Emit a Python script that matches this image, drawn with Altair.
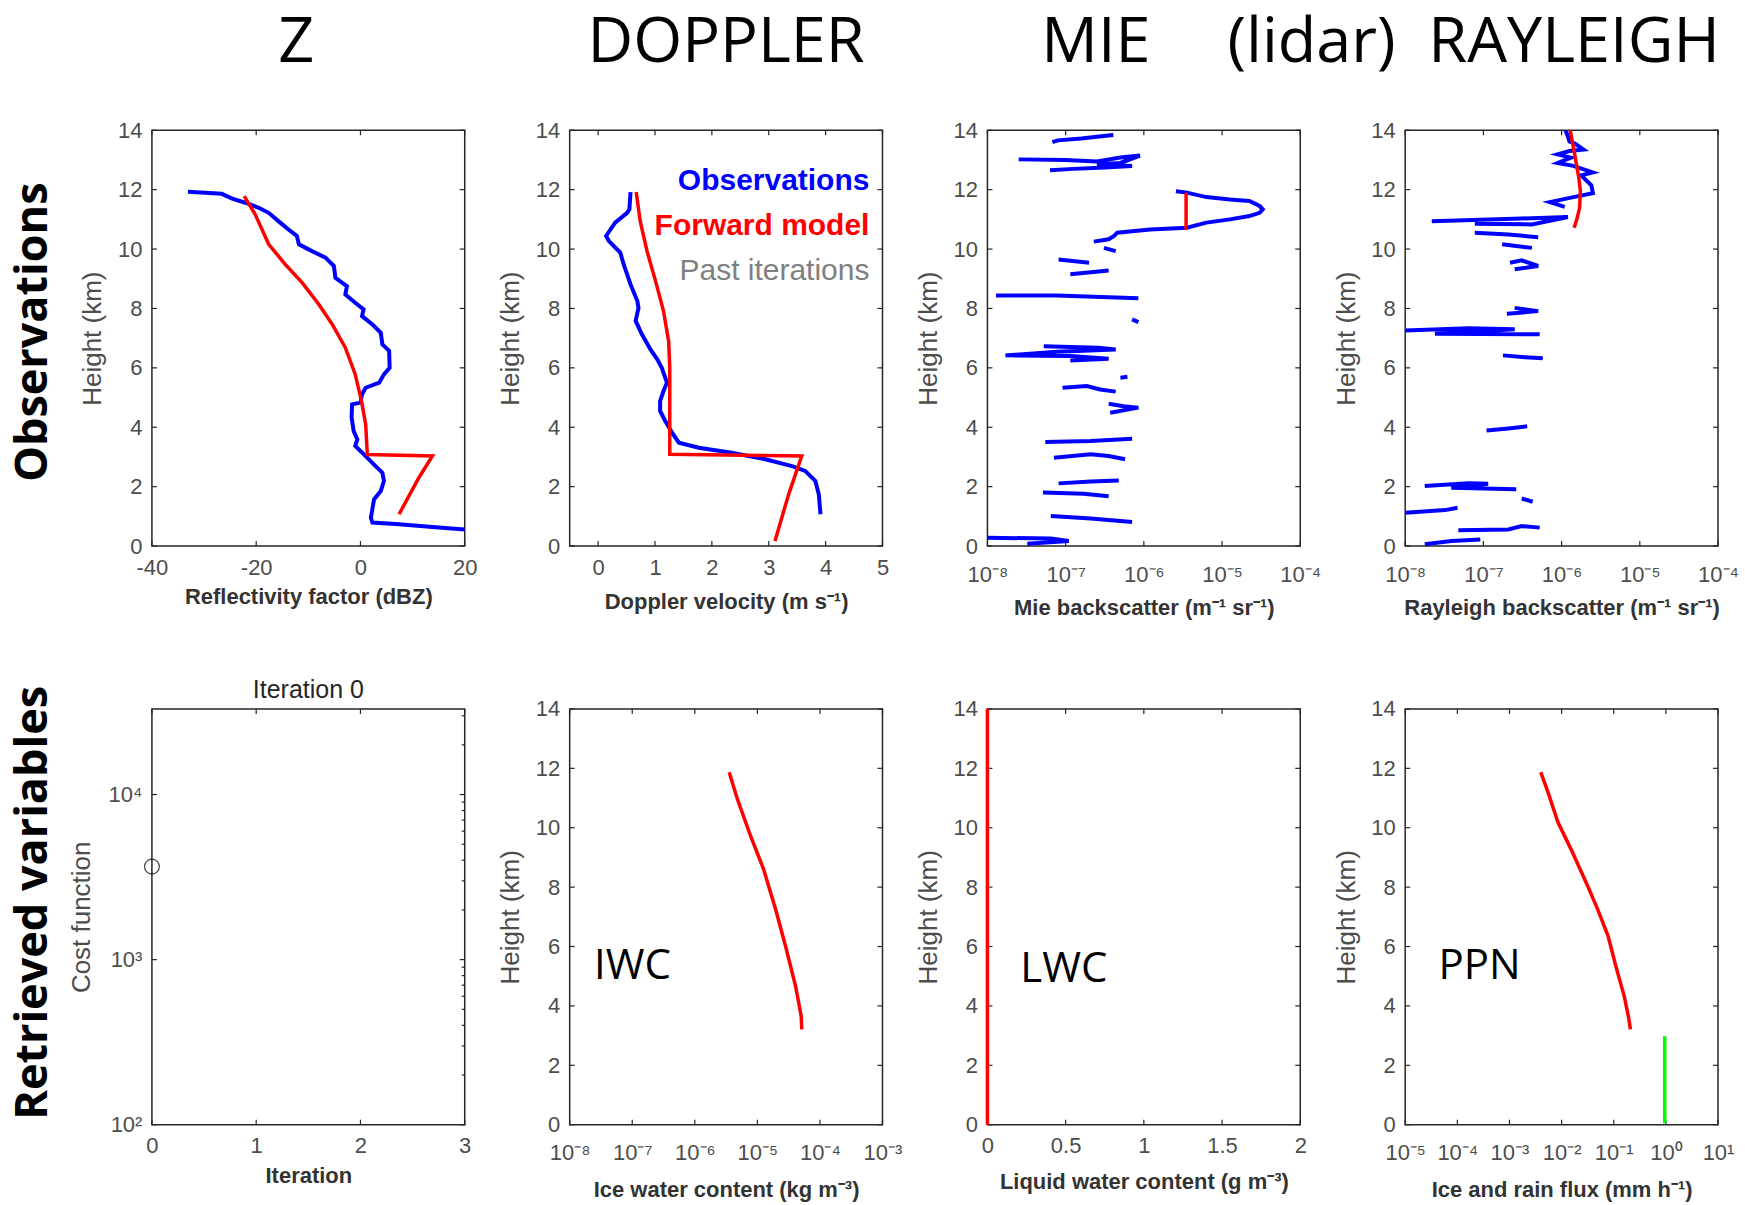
import altair as alt
import pandas as pd

# ---------------- data ----------------
HEIGHT_TICKS = [0, 2, 4, 6, 8, 10, 12, 14]

# Z panel (dBZ, km)
Z_OBS_DBZ = [-33.1, -26.6, -24.6, -22.1, -19.5, -17.6, -15.4, -13.8, -12.2, -11.8, -9.3, -6.7,
             -5.1, -4.8, -2.6, -2.9, -1.0, 0.6, 0.3, 2.3, 3.9, 4.2, 5.5, 5.6, 4.5, 3.6, 1.0, 0.3,
             0.0, -1.6, -1.7, -1.3, -0.6, -1.0, 0.0, 1.0, 2.9, 4.2, 4.5, 3.9, 2.6, 2.0, 2.3, 7.4,
             13.8, 20.0]
Z_OBS_H = [11.93, 11.86, 11.7, 11.56, 11.39, 11.22, 10.89, 10.66, 10.44, 10.16, 9.93, 9.71,
           9.43, 9.03, 8.75, 8.47, 8.19, 7.97, 7.74, 7.46, 7.18, 6.79, 6.57, 6.0, 5.78, 5.5, 5.33,
           5.11, 4.83, 4.77, 4.32, 3.87, 3.59, 3.37, 3.2, 3.03, 2.69, 2.47, 2.19, 1.85, 1.57, 0.95,
           0.79, 0.73, 0.64, 0.56]
Z_FWD_DBZ = [-22.3, -20.2, -17.6, -14.4, -11.2, -8.0, -5.4, -2.9, -1.0, 0.2, 1.0, 1.3, 1.3, 13.8, 11.2, 7.4]
Z_FWD_H = [11.78, 11.17, 10.16, 9.48, 8.87, 8.14, 7.46, 6.68, 5.78, 4.88, 4.1, 3.14, 3.08, 3.03, 2.3, 1.07]
Z_TICKS = [-40, -20, 0, 20]

# Doppler panel (m/s, km)
DOP_OBS_V = [0.57, 0.55, 0.51, 0.30, 0.14, 0.19, 0.39, 0.45, 0.57, 0.69, 0.71, 0.66, 0.77, 0.92,
             1.04, 1.12, 1.21, 1.15, 1.09, 1.09, 1.18, 1.30, 1.42, 1.77, 2.35, 2.94, 3.41, 3.64,
             3.82, 3.88, 3.91]
DOP_OBS_H = [11.92, 11.34, 11.22, 10.89, 10.44, 10.27, 9.88, 9.48, 8.81, 8.25, 8.02, 7.58, 7.13,
             6.62, 6.29, 6.0, 5.5, 5.22, 4.88, 4.55, 4.21, 3.82, 3.48, 3.31, 3.14, 2.92, 2.69, 2.53,
             2.19, 1.74, 1.07]
DOP_FWD_V = [0.67, 0.74, 0.86, 1.01, 1.15, 1.24, 1.26, 1.26, 3.58, 3.35, 3.11]
DOP_FWD_H = [11.92, 10.94, 9.93, 8.92, 7.91, 6.9, 6.0, 3.09, 3.03, 1.74, 0.17]
DOP_TICKS = [0, 1, 2, 3, 4, 5]
LEGEND_TEXT = ["Observations", "Forward model", "Past iterations"]
LEGEND_COLOR = ["#0000ff", "#ff0000", "#808080"]
LEGEND_X = [4.77, 4.77, 4.77]
LEGEND_Y = [12.29, 10.77, 9.26]

# Mie lidar backscatter: segments of (log10 value, km)
MIE_OBS_SEGMENTS = [
    [(-7.17, 13.6), (-7.1, 13.66), (-6.8, 13.72), (-6.6, 13.78), (-6.39, 13.84)],
    [(-7.6, 13.02), (-7.0, 13.0), (-6.6, 12.95), (-6.3, 13.08), (-6.05, 13.15), (-6.3, 12.9),
     (-6.6, 12.85), (-6.15, 12.8), (-6.5, 12.75), (-6.9, 12.7), (-7.2, 12.65)],
    [(-5.59, 11.95), (-5.45, 11.9), (-5.2, 11.75), (-4.9, 11.67), (-4.65, 11.62), (-4.52, 11.45),
     (-4.48, 11.34), (-4.52, 11.22), (-4.65, 11.11), (-4.9, 11.0), (-5.2, 10.89), (-5.45, 10.72),
     (-5.92, 10.66), (-6.34, 10.55), (-6.38, 10.44), (-6.45, 10.33), (-6.64, 10.25)],
    [(-6.51, 10.04), (-6.36, 9.93)],
    [(-7.09, 9.65), (-6.7, 9.54)],
    [(-6.94, 9.15), (-6.45, 9.28)],
    [(-7.89, 8.44), (-7.11, 8.44), (-6.07, 8.34)],
    [(-6.15, 7.63), (-6.07, 7.54)],
    [(-7.28, 6.73), (-6.58, 6.68), (-6.36, 6.62), (-7.11, 6.54), (-7.77, 6.42), (-6.94, 6.4),
     (-6.45, 6.31), (-6.94, 6.25)],
    [(-6.3, 5.67), (-6.21, 5.7)],
    [(-7.04, 5.33), (-6.73, 5.39), (-6.56, 5.27), (-6.36, 5.2)],
    [(-6.45, 4.79), (-6.26, 4.71), (-6.07, 4.66), (-6.43, 4.49)],
    [(-7.26, 3.5), (-6.68, 3.54), (-6.15, 3.61)],
    [(-7.15, 2.97), (-6.68, 3.09), (-6.45, 3.03), (-6.24, 2.92)],
    [(-7.09, 2.11), (-6.68, 2.17), (-6.32, 2.21)],
    [(-7.29, 1.8), (-6.77, 1.76), (-6.45, 1.68)],
    [(-7.19, 1.01), (-6.68, 0.93), (-6.15, 0.81)],
    [(-8.0, 0.28), (-7.19, 0.25), (-6.96, 0.17), (-7.49, 0.08)],
]
MIE_FWD_X = [3.47e-6, 3.47e-6]
MIE_FWD_H = [11.9, 10.65]

# Rayleigh lidar backscatter: segments of (log10 value, km)
RAY_OBS_SEGMENTS = [
    [(-5.95, 14.0), (-5.92, 13.8), (-5.9, 13.62), (-5.83, 13.55), (-5.72, 13.35), (-5.9, 13.3),
     (-6.05, 13.19), (-5.88, 13.08), (-6.05, 12.9), (-5.85, 12.8), (-5.6, 12.58), (-5.75, 12.48),
     (-5.62, 12.15), (-5.6, 11.88), (-5.85, 11.75), (-6.15, 11.58), (-5.96, 11.42)],
    [(-7.66, 10.94), (-6.51, 11.03), (-5.92, 11.08), (-6.38, 10.83), (-7.11, 10.85)],
    [(-7.11, 10.55), (-6.68, 10.49), (-6.3, 10.4)],
    [(-6.76, 10.16), (-6.38, 10.04)],
    [(-6.66, 9.54), (-6.51, 9.62), (-6.3, 9.43), (-6.6, 9.32)],
    [(-6.6, 8.02), (-6.3, 7.91), (-6.7, 7.82)],
    [(-8.0, 7.26), (-7.19, 7.33), (-6.6, 7.3), (-7.62, 7.15), (-6.28, 7.13)],
    [(-6.75, 6.42), (-6.47, 6.36), (-6.24, 6.32)],
    [(-6.96, 3.89), (-6.68, 3.96), (-6.44, 4.03)],
    [(-7.75, 2.02), (-7.19, 2.11), (-6.94, 2.1), (-7.41, 1.96), (-6.58, 1.91)],
    [(-6.51, 1.6), (-6.37, 1.49)],
    [(-8.0, 1.12), (-7.49, 1.21), (-7.33, 1.29)],
    [(-7.32, 0.53), (-6.68, 0.56), (-6.51, 0.67), (-6.28, 0.62)],
    [(-7.75, 0.06), (-7.41, 0.17), (-7.04, 0.22)],
]
RAY_FWD_LOG10 = [-5.89, -5.84, -5.78, -5.76, -5.77, -5.8, -5.84]
RAY_FWD_H = [14.0, 13.3, 12.4, 11.95, 11.39, 11.05, 10.72]
LIDAR_EXPS = [-8, -7, -6, -5, -4]

# Cost function
COST_ITER = [0]
COST_VALUE = [3660]
COST_EXPS = [2, 3, 4]
COST_MINOR = [200, 300, 400, 500, 600, 700, 800, 900, 2000, 3000, 4000, 5000, 6000, 7000,
              8000, 9000, 20000, 30000]
ITER_TICKS = [0, 1, 2, 3]

# IWC
IWC_LOG10 = [-5.45, -5.32, -5.11, -4.9, -4.71, -4.55, -4.39, -4.3, -4.29]
IWC_H = [11.87, 10.97, 9.73, 8.6, 7.26, 6.02, 4.67, 3.66, 3.21]
IWC_EXPS = [-8, -7, -6, -5, -4, -3]

# LWC
LWC_X = [0, 0]
LWC_H = [0, 14]
LWC_TICKS = [0, 0.5, 1, 1.5, 2]

# Precipitation flux
PPN_ICE_LOG10 = [-2.40, -2.26, -2.07, -1.82, -1.5, -1.31, -1.11, -0.96, -0.8, -0.72, -0.68]
PPN_ICE_H = [11.87, 11.19, 10.18, 9.28, 8.04, 7.26, 6.36, 5.34, 4.33, 3.66, 3.21]
PPN_RAIN_X = [0.95, 0.95]
PPN_RAIN_H = [0.05, 2.98]
PPN_EXPS = [-5, -4, -3, -2, -1, 0, 1]

ROW_LABELS = ["Observations", "Retrieved variables"]
COLUMN_HEADERS = ["Z", "DOPPLER", "MIE", "(lidar)\u00a0\u00a0RAYLEIGH"]
COST_TITLE = "Iteration 0"

# ---------------- style ----------------
W, H = 313, 416
TL = 5
AXC = "#262626"
LBL = "#4d4d4d"
BLUE, RED, GREEN = "#0000ff", "#ff0000", "#00ff00"
AF = "Liberation Sans"
HF = "Open Sans"
SUP = str.maketrans("-0123456789", "⁻⁰¹²³⁴⁵⁶⁷⁸⁹")


def pow_expr(exps):
    expr = "''"
    for e in reversed(exps):
        v = repr(10.0 ** e)
        expr = f"(abs(datum.value - {v}) < {v} * 0.001) ? '10{str(e).translate(SUP)}' : {expr}"
    return expr


def x_axis(title, values, expr, label_pad=11, title_pad=8):
    return alt.Axis(title=title, values=values, labelExpr=expr, ticks=False, tickSize=0,
                    domain=False, grid=False, labelFont=AF, labelFontSize=22, labelColor=LBL,
                    labelPadding=label_pad, labelFlush=False, labelOverlap=False,
                    titleFont=AF, titleFontSize=22, titleFontWeight="bold", titleColor="#333333",
                    titlePadding=title_pad)


def y_axis(title, values, expr, extent=38, title_pad=8):
    return alt.Axis(title=title, values=values, labelExpr=expr, ticks=False, tickSize=0,
                    domain=False, grid=False, labelFont=AF, labelFontSize=22, labelColor=LBL,
                    labelPadding=10, labelFlush=False, labelOverlap=False,
                    minExtent=extent, maxExtent=extent,
                    titleFont=AF, titleFontSize=26, titleFontWeight="normal", titleColor=LBL,
                    titlePadding=title_pad)


def line_df(xs, hs):
    return pd.DataFrame({"x": xs, "h": hs, "i": range(len(xs))})


def seg_df(segments):
    rows = []
    for s, seg in enumerate(segments):
        for i, (lx, h) in enumerate(seg):
            rows.append({"x": 10.0 ** lx, "h": h, "seg": s, "i": i})
    return pd.DataFrame(rows)


class Frame:
    def __init__(self, xs, ys, xax, yax):
        self.xs, self.ys, self.xax, self.yax = xs, ys, xax, yax

    def X(self, f="x:Q"):
        return alt.X(f, scale=self.xs, axis=self.xax)

    def Y(self, f="h:Q"):
        return alt.Y(f, scale=self.ys, axis=self.yax)


def line(fr, df, color, width=3.5, clip=True, detail=False):
    enc = dict(x=fr.X(), y=fr.Y(), order=alt.Order("i:Q"))
    if detail:
        enc["detail"] = alt.Detail("seg:N")
    return alt.Chart(df).mark_line(color=color, strokeWidth=width, clip=clip).encode(**enc)


def label(fr, text, x, y, size=42):
    df = pd.DataFrame({"x": [x], "h": [y], "t": [text]})
    return alt.Chart(df).mark_text(font=HF, fontSize=size, color="black", align="left",
                                   baseline="middle").encode(x=fr.X(), y=fr.Y(), text="t:N")


def row_label(text, dy):
    df = pd.DataFrame({"t": [text]})
    return alt.Chart(df).mark_text(font=HF, fontSize=45, fontWeight="bold", color="black",
                                   angle=270, align="center", baseline="middle").encode(
        x=alt.value(-119), y=alt.value(H / 2 + dy), text="t:N")


def header(text, dx):
    df = pd.DataFrame({"t": [text]})
    return alt.Chart(df).mark_text(font=HF, fontSize=63, color="black", align="center",
                                   baseline="alphabetic").encode(
        x=alt.value(W / 2 + dx), y=alt.value(-68), text="t:N")


def panel(fr, data_layers, xvals, yvals, minor_right=None):
    fx = pd.DataFrame({"x": xvals})
    fy = pd.DataFrame({"h": yvals})
    r = dict(color=AXC, strokeWidth=1.2)
    layers = [
        alt.Chart(fx).mark_rule(**r).encode(x=fr.X(), y=alt.value(H), y2=alt.value(H - TL)),
        alt.Chart(fx).mark_rule(**r).encode(x=fr.X(), y=alt.value(0), y2=alt.value(TL)),
        alt.Chart(fy).mark_rule(**r).encode(y=fr.Y(), x=alt.value(0), x2=alt.value(TL)),
        alt.Chart(fy).mark_rule(**r).encode(y=fr.Y(), x=alt.value(W), x2=alt.value(W - TL)),
    ]
    if minor_right:
        fm = pd.DataFrame({"h": minor_right})
        layers.append(alt.Chart(fm).mark_rule(**r).encode(
            y=fr.Y(), x=alt.value(W), x2=alt.value(W - 3)))
    return alt.layer(*layers, *data_layers).properties(width=W, height=H)


HSC = alt.Scale(domain=[0, 14], nice=False, zero=False)


def h_axis():
    return y_axis("Height (km)", HEIGHT_TICKS, "'' + datum.value")


# ---- Z ----
fz = Frame(alt.Scale(domain=[-40, 20], nice=False, zero=False), HSC,
           x_axis("Reflectivity factor (dBZ)", Z_TICKS, "'' + datum.value", 11, 8), h_axis())
p_z = panel(fz, [line(fz, line_df(Z_OBS_DBZ, Z_OBS_H), BLUE, 4),
                 line(fz, line_df(Z_FWD_DBZ, Z_FWD_H), RED, 3.5),
                 row_label(ROW_LABELS[0], -6), header(COLUMN_HEADERS[0], -12)],
            Z_TICKS, HEIGHT_TICKS)

# ---- Doppler ----
fd = Frame(alt.Scale(domain=[-0.5, 5], nice=False, zero=False), HSC,
           x_axis("Doppler velocity (m s⁻¹)", DOP_TICKS, "'' + datum.value", 11, 14), h_axis())
leg = pd.DataFrame({"x": LEGEND_X, "h": LEGEND_Y, "t": LEGEND_TEXT, "c": LEGEND_COLOR})
leg_layers = []
for k, wgt in [(0, "bold"), (1, "bold"), (2, "normal")]:
    leg_layers.append(alt.Chart(leg.iloc[[k]]).mark_text(
        font=AF, fontSize=30, fontWeight=wgt, align="right", baseline="middle").encode(
        x=fd.X(), y=fd.Y(), text="t:N", color=alt.Color("c:N", scale=None)))
p_dop = panel(fd, [line(fd, line_df(DOP_OBS_V, DOP_OBS_H), BLUE, 4),
                   line(fd, line_df(DOP_FWD_V, DOP_FWD_H), RED, 3.5),
                   header(COLUMN_HEADERS[1], 0)] + leg_layers,
              DOP_TICKS, HEIGHT_TICKS)

# ---- Mie ----
LS = alt.Scale(type="log", domain=[1e-8, 1e-4], nice=False)
lidar_vals = [10.0 ** e for e in LIDAR_EXPS]
fm = Frame(LS, HSC, x_axis("Mie backscatter (m⁻¹ sr⁻¹)", lidar_vals, pow_expr(LIDAR_EXPS), 18, 13),
           h_axis())
p_mie = panel(fm, [line(fm, seg_df(MIE_OBS_SEGMENTS), BLUE, 4, detail=True),
                   line(fm, line_df(MIE_FWD_X, MIE_FWD_H), RED, 3.5),
                   header(COLUMN_HEADERS[2], -48)],
              lidar_vals, HEIGHT_TICKS)

# ---- Rayleigh ----
fr_ = Frame(LS, HSC,
            x_axis("Rayleigh backscatter (m⁻¹ sr⁻¹)", lidar_vals, pow_expr(LIDAR_EXPS), 18, 13),
            h_axis())
p_ray = panel(fr_, [line(fr_, seg_df(RAY_OBS_SEGMENTS), BLUE, 4, detail=True),
                    line(fr_, line_df([10.0 ** v for v in RAY_FWD_LOG10], RAY_FWD_H), RED, 3.5),
                    header(COLUMN_HEADERS[3], -88)],
              lidar_vals, HEIGHT_TICKS)

# ---- Cost ----
cost_vals = [10.0 ** e for e in COST_EXPS]
fc = Frame(alt.Scale(domain=[0, 3], nice=False, zero=False),
           alt.Scale(type="log", domain=[100, 33000], nice=False),
           x_axis("Iteration", ITER_TICKS, "'' + datum.value", 11, 9),
           y_axis("Cost function", cost_vals, pow_expr(COST_EXPS), extent=50, title_pad=7))
cost_pt = alt.Chart(pd.DataFrame({"x": COST_ITER, "h": COST_VALUE})).mark_point(
    shape="circle", filled=False, color="black", size=220, strokeWidth=1.3, clip=False).encode(
    x=fc.X(), y=fc.Y())
cost_title = alt.Chart(pd.DataFrame({"t": [COST_TITLE]})).mark_text(
    font=AF, fontSize=25, color=AXC, align="center", baseline="middle").encode(
    x=alt.value(W / 2), y=alt.value(-19), text="t:N")
p_cost = panel(fc, [cost_pt, row_label(ROW_LABELS[1], -14), cost_title], ITER_TICKS, cost_vals,
               minor_right=COST_MINOR)

# ---- IWC ----
iwc_vals = [10.0 ** e for e in IWC_EXPS]
fi = Frame(alt.Scale(type="log", domain=[1e-8, 1e-3], nice=False), HSC,
           x_axis("Ice water content (kg m⁻³)", iwc_vals, pow_expr(IWC_EXPS), 18, 16), h_axis())
p_iwc = panel(fi, [line(fi, line_df([10.0 ** v for v in IWC_LOG10], IWC_H), RED, 3.5),
                   label(fi, "IWC", 10 ** -7.61, 5.34)],
              iwc_vals, HEIGHT_TICKS)

# ---- LWC ----
fl = Frame(alt.Scale(domain=[0, 2], nice=False, zero=False), HSC,
           x_axis("Liquid water content (g m⁻³)", LWC_TICKS, "'' + datum.value", 11, 15),
           h_axis())
p_lwc = panel(fl, [line(fl, line_df(LWC_X, LWC_H), RED, 3.5, clip=False),
                   label(fl, "LWC", 0.21, 5.23)],
              LWC_TICKS, HEIGHT_TICKS)

# ---- PPN ----
ppn_vals = [10.0 ** e for e in PPN_EXPS]
fp = Frame(alt.Scale(type="log", domain=[1e-5, 10], nice=False), HSC,
           x_axis("Ice and rain flux (mm h⁻¹)", ppn_vals, pow_expr(PPN_EXPS), 18, 16), h_axis())
p_ppn = panel(fp, [line(fp, line_df([10.0 ** v for v in PPN_ICE_LOG10], PPN_ICE_H), RED, 3.5),
                   line(fp, line_df(PPN_RAIN_X, PPN_RAIN_H), GREEN, 3.5),
                   label(fp, "PPN", 10 ** -4.36, 5.34)],
              ppn_vals, HEIGHT_TICKS)

chart = alt.concat(p_z, p_dop, p_mie, p_ray, p_cost, p_iwc, p_lwc, p_ppn, columns=4,
                   bounds="flush", spacing=alt.RowColnumber(row=163, column=105)).properties(
    padding={"left": 10, "top": 11, "right": 5, "bottom": 5}, background="white"
).configure_view(stroke=AXC, strokeWidth=1.5)

chart.save("out.html", embed_options={"renderer": "svg", "actions": False})
